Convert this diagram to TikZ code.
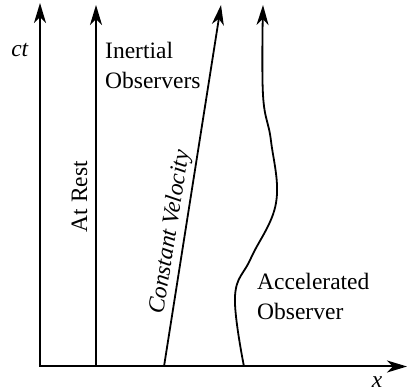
\documentclass[tikz,border=0pt]{standalone}
\usepackage{fontspec}
\setmainfont{Liberation Serif}
\usepackage{tikz}
\usetikzlibrary{arrows.meta,positioning}

\begin{document}
\begin{tikzpicture}[
x=1pt, y=1pt,
font=\fontsize{23.5}{29.5}\selectfont,
axis/.style={
	line width=2pt,
	{Stealth[length=20pt, width=12pt, inset=6pt]}-{Stealth[length=20pt, width=12pt, inset=6pt]}
},
world/.style={
	line width=1.8pt,
	-{Stealth[length=20pt, width=12pt, inset=6pt]}
},
wlabel/.style={
	sloped,
	above=8pt,
	inner sep=0pt,
	text depth=0pt
},
note/.style={
	align=left,
	inner sep=0pt,
	anchor=north west
}
]

\useasboundingbox (0,0) rectangle (407,391);

% axes
\coordinate (origin) at (40,24.5);
\coordinate (ctend) at (40,388);
\coordinate (xend) at (407,24.5);
\draw[axis] (ctend) |- (xend);

\node (ct) at (20,341) {\textit{ct}};
\node (xlabel) at (377,9) {\textit{x}};

% world lines
\coordinate (rest0) at (96,24.5);
\coordinate (rest1) at (96,386);
\coordinate (vel0) at (164,24.5);
\coordinate (vel1) at (221,386);
\coordinate (acc0) at (244,24.5);
\coordinate (acc1) at (263,386);

\draw[world] (rest0) -- (rest1)
	node[wlabel, pos=0.47] (restlabel) {At Rest};
\draw[world] (vel0) -- (vel1)
	node[wlabel, pos=0.365] (vellabel) {\textit{Constant Velocity}};
\draw[world] plot[smooth, tension=0.65] coordinates {
	(acc0) (235,95) (251,133) (276,188) (271,250) (263,296) (acc1)
};

\node[note] (inertial) at (105,349) {
	Inertial\\
	Observers
};

\node[note] (accel) at (257,118) {
	Accelerated\\
	Observer
};

\end{tikzpicture}
\end{document}
